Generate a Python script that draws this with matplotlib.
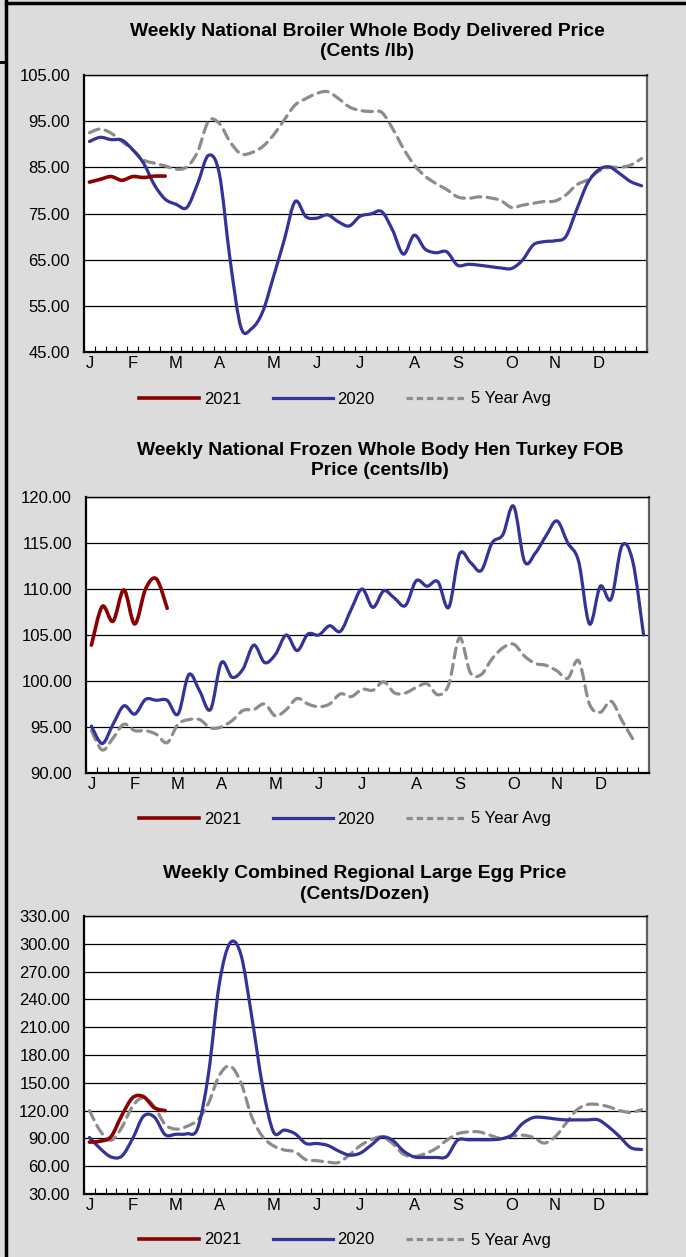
import numpy as np
import matplotlib
matplotlib.use('Agg')
import matplotlib.pyplot as plt
from matplotlib.path import Path
from matplotlib.patches import PathPatch
from matplotlib.lines import Line2D
from matplotlib.ticker import FormatStrFormatter

plt.rcParams['font.family'] = ['Liberation Sans', 'DejaVu Sans']

# --- data (weekly values, week 0 = first week of Jan) ---
month_labels = ['J', 'F', 'M', 'A', 'M', 'J', 'J', 'A', 'S', 'O', 'N', 'D']
month_weeks = [0, 4, 8, 12, 17, 21, 25, 30, 34, 39, 43, 47]
n_weeks = 52

broiler_2021 = [81.8, 82.4, 83.0, 82.2, 83.0, 82.8, 83.1, 83.1]
broiler_2020 = [90.6, 91.5, 91.0, 90.9, 88.8, 85.9, 81.2, 78.1, 77.0, 76.3,
                81.5, 87.6, 83.6, 64.9, 50.3, 50.1, 53.7, 61.3, 69.3, 77.6,
                74.3, 74.0, 74.7, 73.2, 72.3, 74.4, 74.9, 75.4, 71.4, 66.2,
                70.3, 67.3, 66.5, 66.7, 63.8, 64.0, 63.8, 63.5, 63.2, 63.1,
                64.9, 68.2, 68.9, 69.1, 70.0, 75.8, 81.5, 84.4, 85.1, 83.6,
                81.9, 81.0]
broiler_avg = [92.5, 93.3, 92.4, 90.6, 88.8, 86.6, 85.9, 85.3, 84.6, 85.1,
               88.4, 95.0, 94.5, 90.5, 87.9, 88.2, 89.5, 92.0, 95.3, 98.5,
               99.9, 101.0, 101.4, 99.9, 98.1, 97.3, 97.1, 96.9, 93.4, 89.1,
               85.5, 83.1, 81.5, 80.2, 78.6, 78.3, 78.6, 78.4, 77.8, 76.3,
               76.8, 77.2, 77.6, 77.7, 79.0, 81.2, 82.3, 84.1, 85.0, 85.0,
               85.5, 86.9]

turkey_2021 = [103.9, 108.1, 106.5, 109.9, 106.2, 110.0, 111.1, 107.9]
turkey_2020 = [95.1, 93.2, 95.3, 97.3, 96.4, 98.0, 97.9, 97.9, 96.4, 100.7,
               98.9, 96.9, 102.0, 100.4, 101.3, 103.9, 102.0, 102.9, 105.0, 103.3,
               105.1, 105.0, 106.0, 105.4, 107.8, 110.0, 108.0, 109.8, 109.0, 108.2,
               110.9, 110.3, 110.8, 108.0, 113.8, 112.9, 112.0, 115.0, 115.9, 119.0,
               113.0, 113.9, 115.8, 117.4, 115.0, 113.0, 106.2, 110.3, 108.9, 114.7,
               113.0, 105.0]
turkey_avg = [94.6, 92.5, 93.8, 95.3, 94.6, 94.6, 94.2, 93.3, 95.3, 95.8,
              95.8, 94.9, 95.0, 95.7, 96.8, 96.9, 97.5, 96.2, 96.9, 98.1,
              97.5, 97.2, 97.5, 98.6, 98.3, 99.1, 99.0, 99.9, 98.7, 98.7,
              99.3, 99.7, 98.5, 99.6, 104.7, 100.9, 100.7, 102.4, 103.6, 104.0,
              102.7, 101.9, 101.7, 101.1, 100.3, 102.2, 97.5, 96.6, 97.8, 95.7,
              93.7]

egg_2021 = [86, 87, 92, 115, 134, 135, 123, 120]
egg_2020 = [91, 79, 70, 71, 90, 114, 113, 94, 94.5, 95,
            101, 160, 257, 301, 288, 221, 146, 97, 99, 95,
            84.5, 84.5, 82.5, 76.5, 72, 74, 82.5, 91.5, 88, 76.5,
            70, 69.5, 69.5, 70.5, 88, 88.5, 88.5, 88.5, 89.5, 93.5,
            106, 112.5, 112.5, 111, 110, 110, 110, 110, 102, 91.5,
            80, 78]
egg_avg = [120, 98, 88, 102, 125, 134, 124, 105, 100, 103,
           110, 128, 158, 168, 150, 113, 92, 82, 77.5, 75.5,
           67, 66, 64.5, 64, 72, 82, 88.5, 91.5, 84.5, 73,
           70.5, 73.5, 79, 88, 95, 97, 97, 93.5, 90, 92.5,
           93.5, 91, 85, 91.5, 106, 120.5, 126.5, 126.5, 124, 120,
           118, 121]

C2021 = '#8B0000'
C2020 = '#333399'
CAVG = '#8C8C8C'
BG = '#DCDCDC'

W, H = 686, 1257
fig = plt.figure(figsize=(W / 100, H / 100), dpi=100)
fig.patch.set_facecolor(BG)


def smooth_line(ax, values, color, ls='-', lw=2.3):
    # excel style smoothed line: cubic bezier through every point
    pts = np.column_stack([np.arange(len(values)), values]).astype(float)
    n = len(pts)
    verts = [pts[0]]
    codes = [Path.MOVETO]
    for k in range(n - 1):
        p0 = pts[max(k - 1, 0)]
        p1 = pts[k]
        p2 = pts[k + 1]
        p3 = pts[min(k + 2, n - 1)]
        verts += [p1 + (p2 - p0) / 6, p2 - (p3 - p1) / 6, p2]
        codes += [Path.CURVE4] * 3
    patch = PathPatch(Path(verts, codes), facecolor='none', edgecolor=color,
                      lw=lw, ls=ls, capstyle='round', joinstyle='round')
    ax.add_patch(patch)


def panel(box, title, title_xy, ylim, ystep, series, legend_y):
    l, t, r, b = box
    ax = fig.add_axes([l / W, 1 - b / H, (r - l) / W, (b - t) / H])
    ax.set_facecolor('white')
    ax.set_xlim(-0.5, n_weeks - 0.5)
    ax.set_ylim(*ylim)
    ax.set_yticks(np.arange(ylim[0], ylim[1] + ystep / 2, ystep))
    ax.yaxis.set_major_formatter(FormatStrFormatter('%.2f'))
    ax.grid(axis='y', color='black', lw=0.9)
    ax.set_axisbelow(True)
    ax.set_xticks(month_weeks)
    ax.set_xticklabels(month_labels)
    ax.set_xticks(np.arange(-0.5, n_weeks, 1), minor=True)
    ax.tick_params(axis='x', which='major', length=0, pad=3, labelsize=12)
    ax.tick_params(axis='x', which='minor', direction='in', length=4, width=0.8)
    ax.tick_params(axis='y', length=0, pad=10, labelsize=12)
    for side in ['left', 'bottom']:
        ax.spines[side].set_linewidth(1.6)
        ax.spines[side].set_color('black')
    ax.spines['top'].set_linewidth(1.0)
    ax.spines['right'].set_linewidth(1.6)
    ax.spines['right'].set_color('#606060')

    v2021, v2020, vavg = series
    smooth_line(ax, vavg, CAVG, ls=(0, (3.2, 2.0)), lw=2.3)
    smooth_line(ax, v2020, C2020, lw=2.3)
    smooth_line(ax, v2021, C2021, lw=2.6)

    fig.text(title_xy[0] / W, 1 - title_xy[1] / H, title, ha='center', va='center',
             fontsize=13.9, fontweight='bold', linespacing=1.25)

    handles = [Line2D([], [], color=C2021, lw=2.6),
               Line2D([], [], color=C2020, lw=2.3),
               Line2D([], [], color=CAVG, lw=2.3, ls=(0, (2.0, 1.2)))]
    fig.legend(handles, ['2021', '2020', '5 Year Avg'], loc='center',
               bbox_to_anchor=(345 / W, 1 - legend_y / H), ncol=3, frameon=False,
               fontsize=12, handlelength=3.6, handletextpad=0.3, columnspacing=1.9)
    return ax


panel((84, 75, 647, 352),
      'Weekly National Broiler Whole Body Delivered Price\n(Cents /lb)',
      (367, 41.5), (45, 105), 10, (broiler_2021, broiler_2020, broiler_avg), 399)
panel((86, 497, 649, 773),
      'Weekly National Frozen Whole Body Hen Turkey FOB\nPrice (cents/lb)',
      (380, 460.5), (90, 120), 5, (turkey_2021, turkey_2020, turkey_avg), 819)
panel((84, 916, 647, 1194),
      'Weekly Combined Regional Large Egg Price\n(Cents/Dozen)',
      (365, 884), (30, 330), 30, (egg_2021, egg_2020, egg_avg), 1240)

# page frame lines around the block
fig.add_artist(Line2D([6 / W, 6 / W], [0, 1], color='black', lw=2.5,
                      transform=fig.transFigure))
fig.add_artist(Line2D([6 / W, 1], [1 - 2.5 / H, 1 - 2.5 / H], color='black', lw=2.5,
                      transform=fig.transFigure))
fig.add_artist(Line2D([0, 6 / W], [1 - 62 / H, 1 - 62 / H], color='black', lw=2.0,
                      transform=fig.transFigure))

fig.savefig('out.png', dpi=100, facecolor=fig.get_facecolor())
